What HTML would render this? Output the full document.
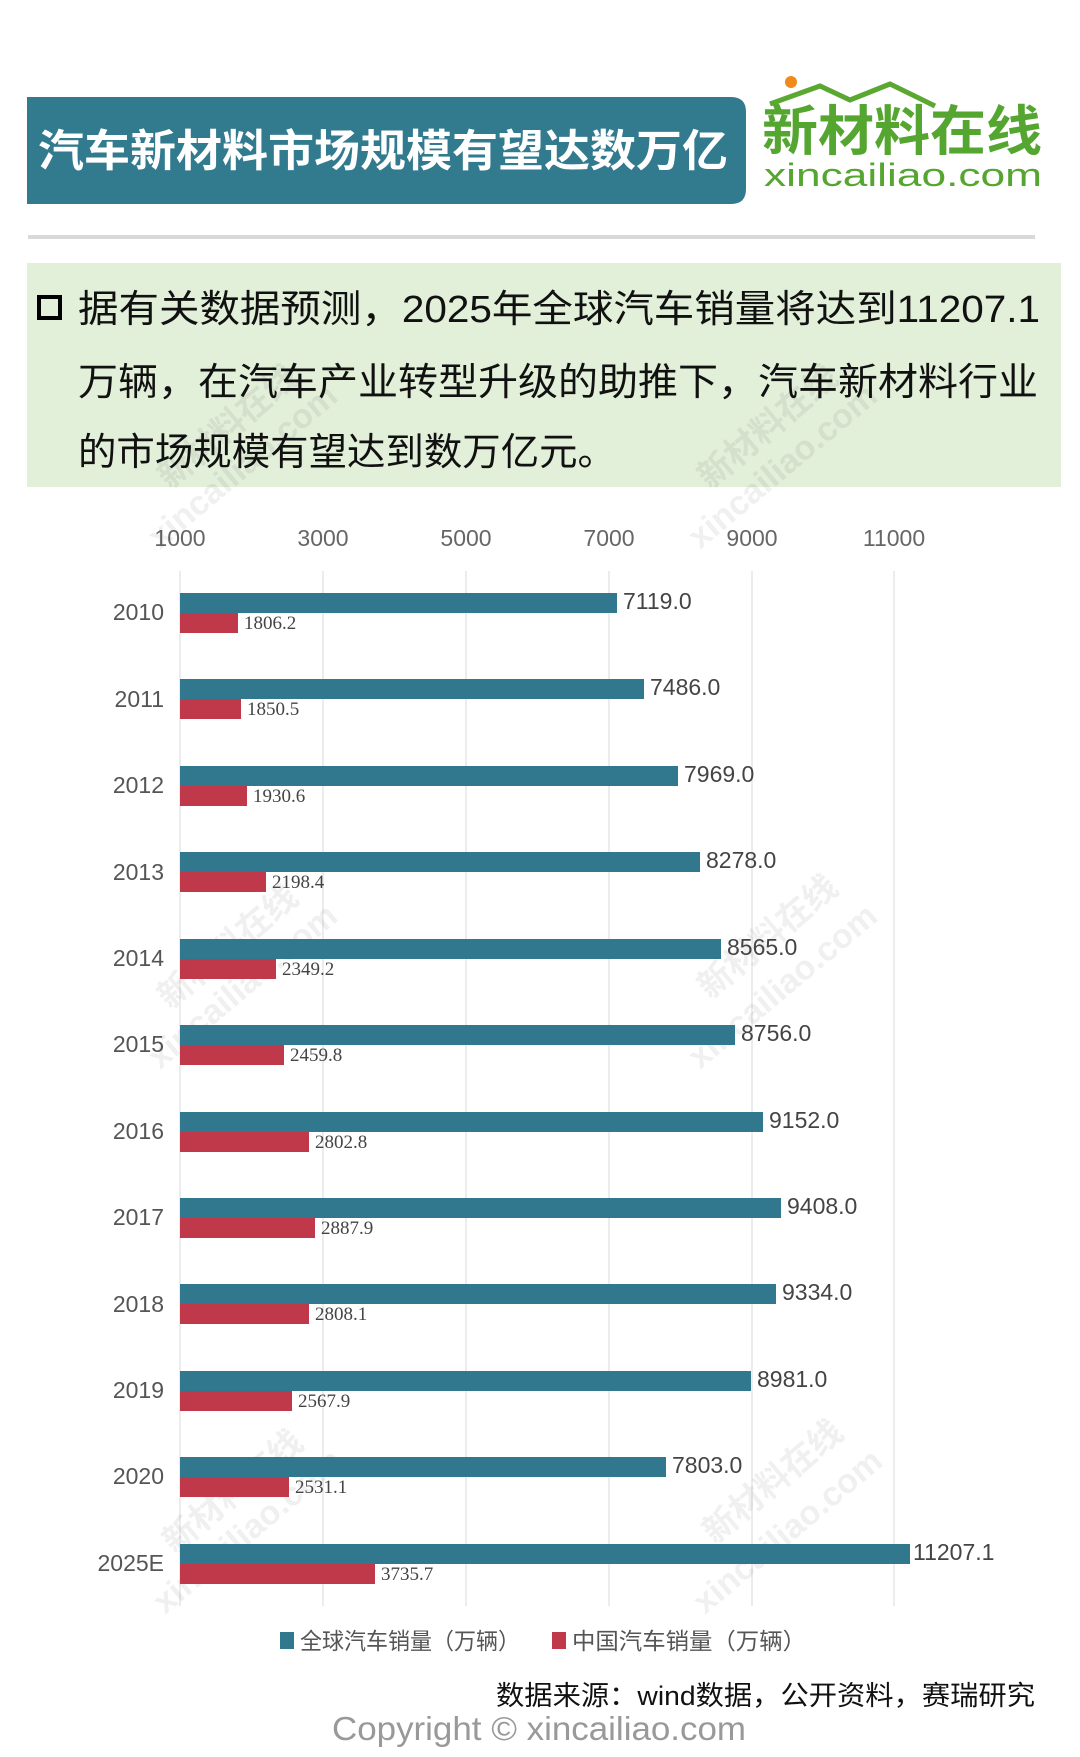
<!DOCTYPE html>
<html><head><meta charset="utf-8"><style>
body{margin:0;background:#fff;}
svg{display:block;font-family:"Liberation Sans","Noto Sans CJK SC",sans-serif;}
</style></head><body>
<svg width="1080" height="1757" viewBox="0 0 1080 1757" xmlns="http://www.w3.org/2000/svg">
<rect width="1080" height="1757" fill="#fff"/>
<path d="M27 97 H731 Q746 97 746 112 V189 Q746 204 731 204 H27 Z" fill="#327a8e"/>
<text x="38" y="166" font-size="44" font-weight="bold" fill="#fff" textLength="690" lengthAdjust="spacingAndGlyphs">汽车新材料市场规模有望达数万亿</text>
<circle cx="791" cy="82" r="6" fill="#f08a1c"/>
<path d="M770 104 L820 86 L850 100 L890 84 L935 106" stroke="#5aa832" stroke-width="5" fill="none"/>
<text x="762" y="150" font-size="54" font-weight="bold" fill="#55a630" textLength="280" lengthAdjust="spacingAndGlyphs">新材料在线</text>
<text x="764" y="186" font-size="32" fill="#55a630" textLength="278" lengthAdjust="spacingAndGlyphs">xincailiao.com</text>
<rect x="28" y="235" width="1007" height="4" fill="#d9d9d9"/>
<rect x="27" y="263" width="1034" height="224" fill="#e2efd9"/>
<rect x="39" y="297" width="21" height="21" fill="none" stroke="#000" stroke-width="4"/>
<g font-size="38" fill="#111">
<text x="78" y="322" textLength="962" lengthAdjust="spacingAndGlyphs">据有关数据预测，2025年全球汽车销量将达到11207.1</text>
<text x="78" y="395" textLength="960" lengthAdjust="spacingAndGlyphs">万辆，在汽车产业转型升级的助推下，汽车新材料行业</text>
<text x="78" y="465" textLength="538" lengthAdjust="spacingAndGlyphs">的市场规模有望达到数万亿元。</text>
</g>
<g font-size="23" fill="#666" text-anchor="middle">
<text x="180" y="546">1000</text><text x="323" y="546">3000</text><text x="466" y="546">5000</text>
<text x="609" y="546">7000</text><text x="752" y="546">9000</text><text x="894" y="546">11000</text>
</g>
<g stroke="#e6e6e6" stroke-width="1.5">
<line x1="180" y1="571" x2="180" y2="1606"/><line x1="323" y1="571" x2="323" y2="1606"/>
<line x1="466" y1="571" x2="466" y2="1606"/><line x1="609" y1="571" x2="609" y2="1606"/>
<line x1="752" y1="571" x2="752" y2="1606"/><line x1="894" y1="571" x2="894" y2="1606"/>
</g>
<rect x="280" y="1632" width="14" height="17" fill="#31788f"/>
<text x="300" y="1649" font-size="23" fill="#555" textLength="220" lengthAdjust="spacingAndGlyphs">全球汽车销量（万辆）</text>
<rect x="552" y="1632" width="14" height="17" fill="#c0394b"/>
<text x="572" y="1649" font-size="23" fill="#555" textLength="234" lengthAdjust="spacingAndGlyphs">中国汽车销量（万辆）</text>
<text x="496" y="1705" font-size="27" fill="#111" textLength="539" lengthAdjust="spacingAndGlyphs">数据来源：wind数据，公开资料，赛瑞研究</text>
<text x="332" y="1740" font-size="33" fill="#999" textLength="414" lengthAdjust="spacingAndGlyphs">Copyright © xincailiao.com</text>
<g fill="#000" opacity="0.06" font-size="34" font-weight="bold">
<text transform="translate(170,1010) rotate(-40)">新材料在线</text>
<text transform="translate(160,1070) rotate(-40)">xincailiao.com</text>
<text transform="translate(710,1000) rotate(-40)">新材料在线</text>
<text transform="translate(700,1070) rotate(-40)">xincailiao.com</text>
<text transform="translate(175,1555) rotate(-40)">新材料在线</text>
<text transform="translate(165,1615) rotate(-40)">xincailiao.com</text>
<text transform="translate(715,1545) rotate(-40)">新材料在线</text>
<text transform="translate(705,1615) rotate(-40)">xincailiao.com</text>
<text transform="translate(170,490) rotate(-40)">新材料在线</text>
<text transform="translate(160,550) rotate(-40)">xincailiao.com</text>
<text transform="translate(710,490) rotate(-40)">新材料在线</text>
<text transform="translate(700,550) rotate(-40)">xincailiao.com</text>
</g>
<g>
<g font-size="23" fill="#555" text-anchor="end">
<text x="164" y="620">2010</text><text x="164" y="707">2011</text><text x="164" y="793">2012</text>
<text x="164" y="880">2013</text><text x="164" y="966">2014</text><text x="164" y="1052">2015</text>
<text x="164" y="1139">2016</text><text x="164" y="1225">2017</text><text x="164" y="1312">2018</text>
<text x="164" y="1398">2019</text><text x="164" y="1484">2020</text><text x="164" y="1571">2025E</text>
</g>
<g fill="#31788f">
<rect x="180" y="593" width="437" height="20"/>
<rect x="180" y="679" width="464" height="20"/>
<rect x="180" y="766" width="498" height="20"/>
<rect x="180" y="852" width="520" height="20"/>
<rect x="180" y="939" width="541" height="20"/>
<rect x="180" y="1025" width="555" height="20"/>
<rect x="180" y="1112" width="583" height="20"/>
<rect x="180" y="1198" width="601" height="20"/>
<rect x="180" y="1284" width="596" height="20"/>
<rect x="180" y="1371" width="571" height="20"/>
<rect x="180" y="1457" width="486" height="20"/>
<rect x="180" y="1544" width="730" height="20"/>
</g>
<g fill="#c0394b">
<rect x="180" y="613" width="58" height="20"/>
<rect x="180" y="699" width="61" height="20"/>
<rect x="180" y="786" width="67" height="20"/>
<rect x="180" y="872" width="86" height="20"/>
<rect x="180" y="959" width="96" height="20"/>
<rect x="180" y="1045" width="104" height="20"/>
<rect x="180" y="1132" width="129" height="20"/>
<rect x="180" y="1218" width="135" height="20"/>
<rect x="180" y="1304" width="129" height="20"/>
<rect x="180" y="1391" width="112" height="20"/>
<rect x="180" y="1477" width="109" height="20"/>
<rect x="180" y="1564" width="195" height="20"/>
</g>
<g font-size="23" fill="#444">
<text x="623" y="609">7119.0</text><text x="650" y="695">7486.0</text><text x="684" y="782">7969.0</text>
<text x="706" y="868">8278.0</text><text x="727" y="955">8565.0</text><text x="741" y="1041">8756.0</text>
<text x="769" y="1128">9152.0</text><text x="787" y="1214">9408.0</text><text x="782" y="1300">9334.0</text>
<text x="757" y="1387">8981.0</text><text x="672" y="1473">7803.0</text><text x="913" y="1560">11207.1</text>
</g>
<g font-size="19" fill="#444" font-family="Liberation Serif,serif">
<text x="244" y="629">1806.2</text><text x="247" y="715">1850.5</text><text x="253" y="802">1930.6</text>
<text x="272" y="888">2198.4</text><text x="282" y="975">2349.2</text><text x="290" y="1061">2459.8</text>
<text x="315" y="1148">2802.8</text><text x="321" y="1234">2887.9</text><text x="315" y="1320">2808.1</text>
<text x="298" y="1407">2567.9</text><text x="295" y="1493">2531.1</text><text x="381" y="1580">3735.7</text>
</g>
</g>
</svg>
</body></html>
